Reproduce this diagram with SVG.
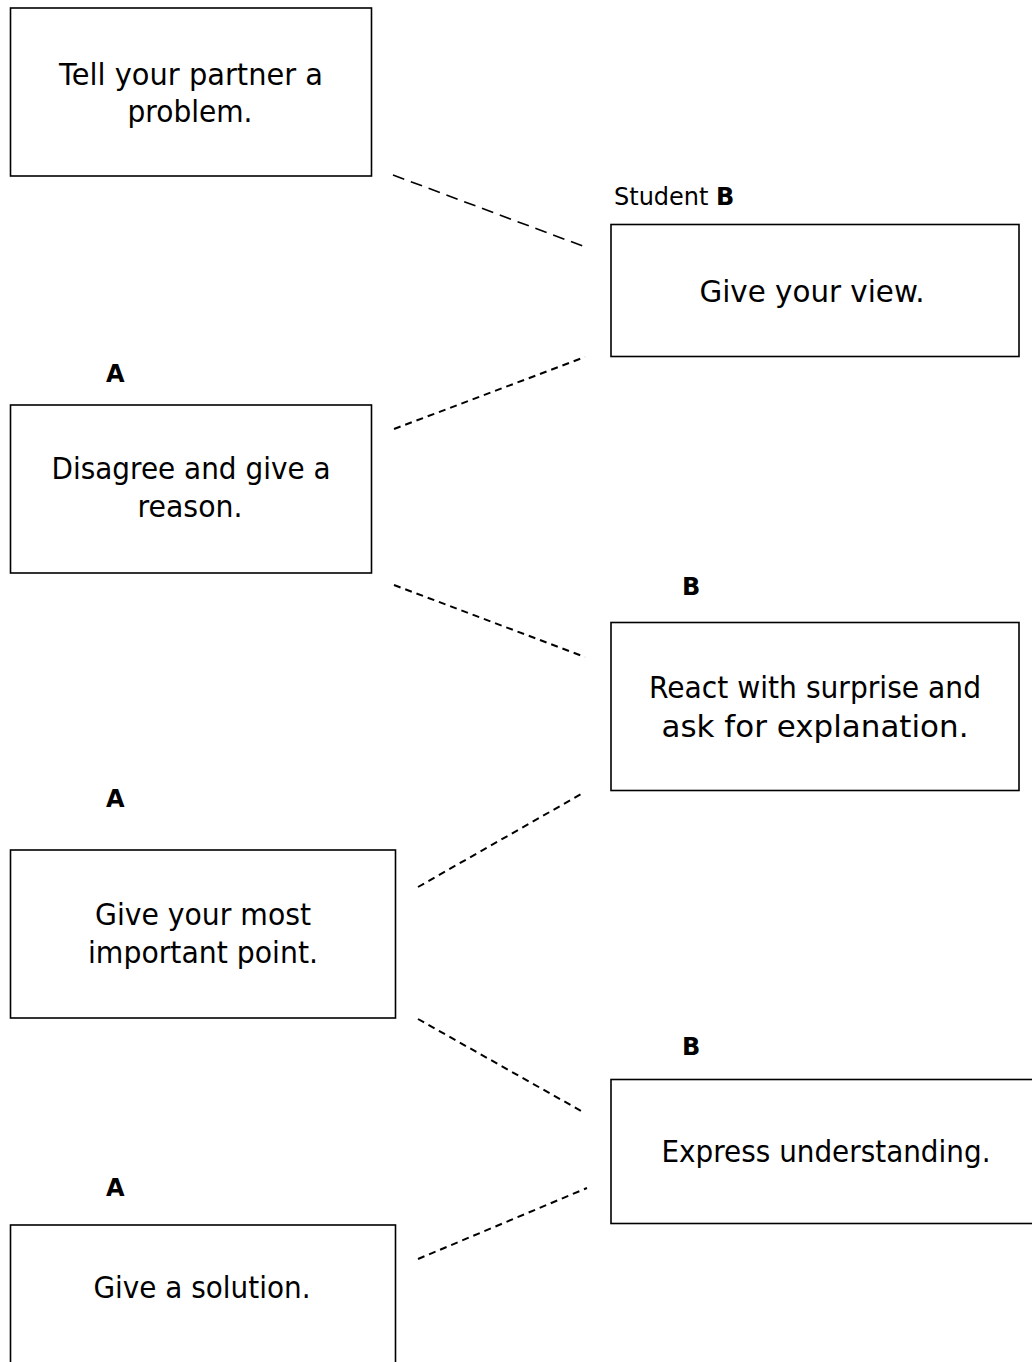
<svg xmlns="http://www.w3.org/2000/svg" width="1032" height="1362" viewBox="0 0 1032 1362">
<style>
.box{fill:#fff;stroke:#000;stroke-width:1.6}
.t{font-family:"DejaVu Sans","Liberation Sans",sans-serif;font-size:31px;fill:#000;text-anchor:middle}
.lbl{font-family:"DejaVu Sans","Liberation Sans",sans-serif;font-size:24px;fill:#000}
.b{font-weight:bold}
.c{fill:none;stroke:#000;stroke-width:2;stroke-dasharray:7 5}
.c1{fill:none;stroke:#000;stroke-width:1.6;stroke-dasharray:12 7}
</style>
<rect width="1032" height="1362" fill="#fff"/>
<g id="connectors">
<line class="c1" x1="393" y1="175" x2="588" y2="248"/>
<line class="c" x1="394" y1="429" x2="585" y2="357"/>
<line class="c" x1="394" y1="585" x2="585" y2="657"/>
<line class="c" x1="418" y1="887" x2="583" y2="793"/>
<line class="c" x1="418" y1="1019" x2="583" y2="1112"/>
<line class="c" x1="418" y1="1259" x2="587" y2="1188"/>
</g>
<g id="n1">
<rect class="box" x="10.5" y="8" width="361" height="168"/>
<text class="t" x="191" y="85" textLength="264" lengthAdjust="spacingAndGlyphs">Tell your partner a</text>
<text class="t" x="190" y="122" textLength="125" lengthAdjust="spacingAndGlyphs">problem.</text>
</g>
<g id="n2">
<text class="lbl" x="614" y="205">Student <tspan class="b">B</tspan></text>
<rect class="box" x="611" y="224.5" width="408" height="132"/>
<text class="t" x="812" y="302" textLength="225" lengthAdjust="spacingAndGlyphs">Give your view.</text>
</g>
<g id="n3">
<text class="lbl b" x="106" y="382">A</text>
<rect class="box" x="10.5" y="405" width="361" height="168"/>
<text class="t" x="191" y="479" textLength="279" lengthAdjust="spacingAndGlyphs">Disagree and give a</text>
<text class="t" x="190" y="517" textLength="105" lengthAdjust="spacingAndGlyphs">reason.</text>
</g>
<g id="n4">
<text class="lbl b" x="682" y="595">B</text>
<rect class="box" x="611" y="622.5" width="408" height="168"/>
<text class="t" x="815" y="698" textLength="332" lengthAdjust="spacingAndGlyphs">React with surprise and</text>
<text class="t" x="815" y="737" textLength="307" lengthAdjust="spacingAndGlyphs">ask for explanation.</text>
</g>
<g id="n5">
<text class="lbl b" x="106" y="807">A</text>
<rect class="box" x="10.5" y="850" width="385" height="168"/>
<text class="t" x="203" y="925" textLength="216" lengthAdjust="spacingAndGlyphs">Give your most</text>
<text class="t" x="203" y="963" textLength="230" lengthAdjust="spacingAndGlyphs">important point.</text>
</g>
<g id="n6">
<text class="lbl b" x="682" y="1055">B</text>
<rect class="box" x="611" y="1079.5" width="440" height="144"/>
<text class="t" x="826" y="1162" textLength="329" lengthAdjust="spacingAndGlyphs">Express understanding.</text>
</g>
<g id="n7">
<text class="lbl b" x="106" y="1196">A</text>
<rect class="box" x="10.5" y="1225" width="385" height="160"/>
<text class="t" x="202" y="1298" textLength="217" lengthAdjust="spacingAndGlyphs">Give a solution.</text>
</g>
</svg>
